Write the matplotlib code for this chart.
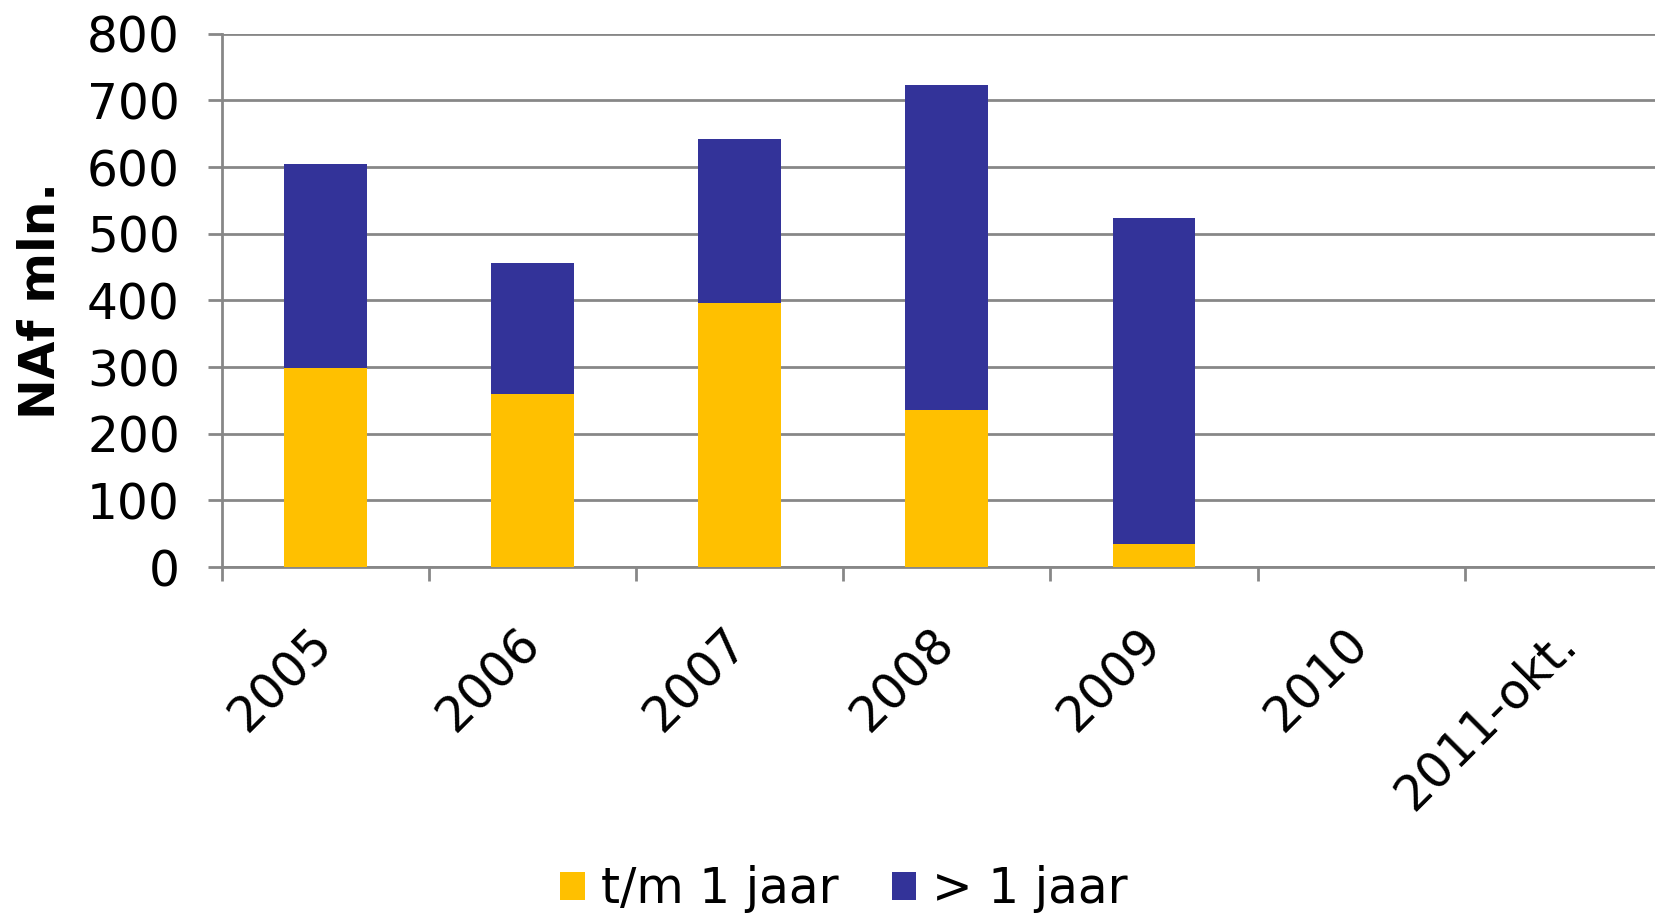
import matplotlib.pyplot as plt
import numpy as np

years = ["2005", "2006", "2007", "2008", "2009", "2010", "2011-okt."]
tm_1_jaar = [298, 260, 396, 236, 35, 0, 0]
meer_1_jaar = [306, 196, 246, 487, 489, 0, 0]
yticks = [0, 100, 200, 300, 400, 500, 600, 700, 800]

yellow = "#FFC000"
blue = "#333399"
grey = "#878787"
fs = 35

fig = plt.figure(figsize=(16.55, 9.14), dpi=100)
ax = fig.add_axes([0.1339, 0.3796, 0.8764, 0.5834])

x = np.arange(len(years))
ax.bar(x, tm_1_jaar, width=0.40, color=yellow, label="t/m 1 jaar", zorder=3)
ax.bar(x, meer_1_jaar, width=0.40, bottom=tm_1_jaar, color=blue, label="> 1 jaar", zorder=3)

ax.set_xlim(-0.5, len(years) - 0.5)
ax.set_ylim(0, 800)
ax.set_yticks(yticks)
ax.set_yticklabels([str(v) for v in yticks], fontsize=fs)
ax.yaxis.grid(True, color=grey, linewidth=2)
ax.set_axisbelow(True)

# category ticks between the bars, labels centred on the bars
ax.set_xticks(x)
ax.set_xticklabels(years, fontsize=fs, rotation=45, ha="right", va="center",
                   rotation_mode="anchor")
ax.set_xticks(np.arange(len(years) + 1) - 0.5, minor=True)
ax.tick_params(axis="x", which="major", length=0, pad=50)
ax.tick_params(axis="x", which="minor", length=10, width=2, color=grey)
ax.tick_params(axis="y", length=10, width=2, color=grey, pad=20)

for s in ["top", "right"]:
    ax.spines[s].set_visible(False)
for s in ["left", "bottom"]:
    ax.spines[s].set_color(grey)
    ax.spines[s].set_linewidth(2)

ax.set_ylabel("NAf mln.", fontsize=fs, fontweight="bold")
ax.yaxis.set_label_coords(-0.108, 0.5)

fig.legend(loc="center", bbox_to_anchor=(0.51, 0.027), ncol=2, frameon=False,
           fontsize=fs, handlelength=0.5, handleheight=0.5, handletextpad=0.33,
           columnspacing=1.1)

fig.savefig("out.png", dpi=100)
